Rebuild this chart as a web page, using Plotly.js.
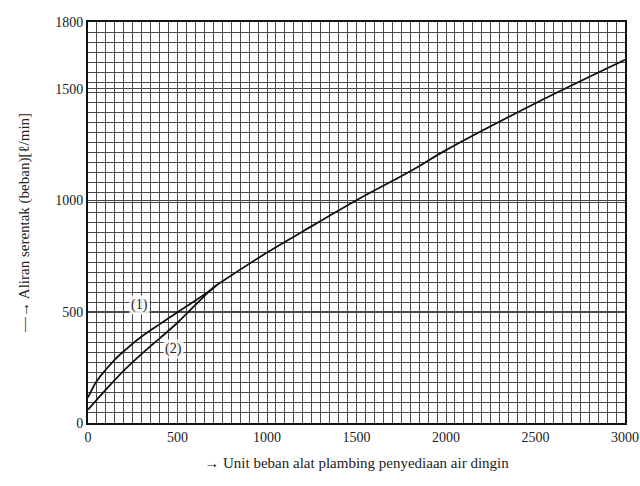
<!DOCTYPE html>
<html>
<head>
<meta charset="utf-8">
<script src="https://cdn.plot.ly/plotly-3.0.1.min.js"></script>
<style>html,body{margin:0;padding:0;background:#fff;}#chart{width:640px;height:486px;}</style>
</head>
<body>
<div id="chart"></div>
<script>
// Curve (1) – upper branch at low loads
const curve1X = [0, 50, 100, 150, 200, 300, 400, 500, 600, 700, 720];
const curve1Y = [115, 190, 240, 285, 322, 388, 443, 497, 550, 605, 620];
// Curve (2) – lower branch at low loads
const curve2X = [0, 100, 200, 300, 400, 500, 600, 700, 720];
const curve2Y = [60, 150, 235, 310, 380, 450, 530, 608, 620];
// Common curve beyond the junction
const mainX = [720, 1000, 1200, 1500, 1800, 2000, 2500, 3000];
const mainY = [620, 765, 860, 1000, 1130, 1225, 1435, 1630];

const xTickVals = [0, 500, 1000, 1500, 2000, 2500, 3000];
const xTickText = ['0', '500', '1000', '1500', '2000', '2500', '3000'];
const yTickVals = [0, 500, 1000, 1500, 1800];
const yTickText = ['0', '500', '1000', '1500', '1800'];
const curveLabels = ['(1)', '(2)'];
const curveLabelX = [290, 480];
const curveLabelY = [530, 330];

const lineStyle = {color: '#111', width: 1.8, shape: 'spline', smoothing: 1};
const traces = [
  {x: curve1X, y: curve1Y, mode: 'lines', line: lineStyle, hoverinfo: 'skip'},
  {x: curve2X, y: curve2Y, mode: 'lines', line: lineStyle, hoverinfo: 'skip'},
  {x: mainX, y: mainY, mode: 'lines', line: lineStyle, hoverinfo: 'skip'}
];

const serif = 'Liberation Serif, serif';
const gridCol = '#4a4a4a';

const layout = {
  width: 640, height: 486,
  margin: {l: 88, r: 15, t: 22, b: 63},
  paper_bgcolor: '#fff', plot_bgcolor: '#fff',
  showlegend: false,
  font: {family: serif, color: '#222', size: 14},
  xaxis: {
    range: [0, 3000], tickvals: xTickVals, ticktext: xTickText,
    showgrid: true, gridcolor: gridCol, gridwidth: 1,
    minor: {dtick: 50, showgrid: true, gridcolor: gridCol, gridwidth: 1},
    showline: true, mirror: true, linecolor: '#111', linewidth: 2,
    zeroline: false, ticks: '', ticklen: 0,
    tickfont: {family: serif, size: 14, color: '#222'},
    title: {text: '→ Unit beban alat plambing penyediaan air dingin',
            font: {family: serif, size: 15, color: '#222'}, standoff: 14}
  },
  yaxis: {
    range: [0, 1800], tickvals: yTickVals, ticktext: yTickText,
    showgrid: true, gridcolor: gridCol, gridwidth: 1,
    minor: {dtick: 45, showgrid: true, gridcolor: gridCol, gridwidth: 1},
    showline: true, mirror: true, linecolor: '#111', linewidth: 2,
    zeroline: false, ticks: '', ticklen: 0,
    tickfont: {family: serif, size: 14, color: '#222'},
    title: {text: '—→ Aliran serentak (beban)[ℓ/min]',
            font: {family: serif, size: 15, color: '#222'}, standoff: 22}
  },
  annotations: curveLabels.map((t, i) => ({
    x: curveLabelX[i], y: curveLabelY[i], xref: 'x', yref: 'y', text: t,
    showarrow: false, bgcolor: 'rgba(255,255,255,0.85)',
    font: {family: serif, size: 14, color: '#222'}
  }))
};

Plotly.newPlot('chart', traces, layout, {staticPlot: true, displayModeBar: false});
</script>
</body>
</html>
